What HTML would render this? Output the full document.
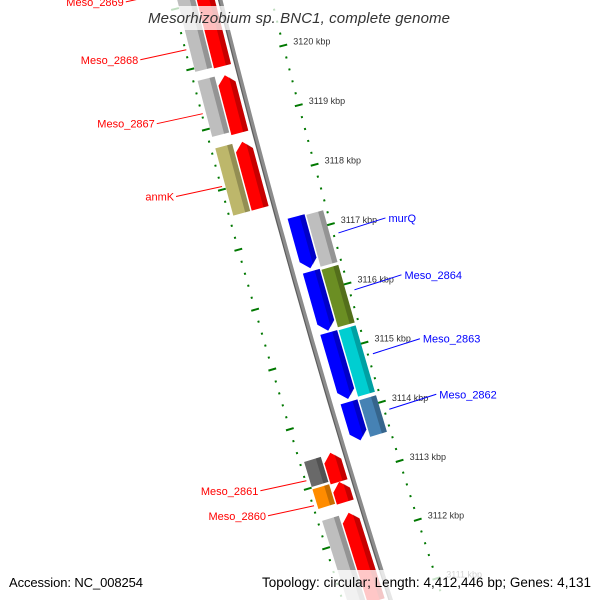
<!DOCTYPE html>
<html><head><meta charset="utf-8"><title>Mesorhizobium sp. BNC1 genome map</title>
<style>html,body{margin:0;padding:0;background:#fff;overflow:hidden;width:600px;height:600px}svg{display:block}</style></head>
<body>
<svg id="map" xmlns="http://www.w3.org/2000/svg" width="600" height="600" viewBox="0 0 600 600" font-family="Liberation Sans, sans-serif" overflow="hidden">
<rect width="600" height="600" fill="#fff"/>
<g id="ticks"></g>
<g id="backbone"></g>
<g id="features"></g>
<g id="labels"></g>
<rect x="145" y="6" width="310" height="24" fill="#fff" fill-opacity="0.75"/>
<text x="299" y="23" text-anchor="middle" font-size="15" font-style="italic" fill="#333" textLength="302">Mesorhizobium sp. BNC1, complete genome</text>
<rect x="0" y="570" width="600" height="30" fill="#fff" fill-opacity="0.78"/>
<text x="9" y="587" font-size="13" fill="#000" textLength="134">Accession: NC_008254</text>
<text x="262" y="587" font-size="13.5" fill="#000" textLength="329">Topology: circular; Length: 4,412,446 bp; Genes: 4,131</text>
</svg>
<script>
// data (kbp)
const featStart = [3119.92,3118.81,3117.55,3112.96,3112.62,3110.95,3109.50, 3121.40,3119.92,3118.84,3117.53,3112.99,3112.62,3110.90, 3116.40,3115.35,3114.20,3113.50, 3116.36,3115.34,3114.17,3113.49];
const featEnd   = [3121.30,3119.77,3118.66,3113.45,3112.96,3112.44,3110.85, 3122.50,3121.30,3119.81,3118.69,3113.45,3112.99,3112.46, 3117.27,3116.35,3115.32,3114.15, 3117.27,3116.35,3115.33,3114.15];
const featLane  = [-1,-1,-1,-1,-1,-1,-1, -2,-2,-2,-2,-2,-2,-2, 1,1,1,1, 2,2,2,2];
const featColor = ["#ff0000","#ff0000","#ff0000","#ff0000","#ff0000","#ff0000","#ff0000","#bebebe","#bebebe","#bebebe","#bdb76b","#696969","#ff8c00","#bebebe","#0000ff","#0000ff","#0000ff","#0000ff","#bebebe","#6b8e23","#00ced1","#4682b4"];
const labelText = ["Meso_2869","Meso_2868","Meso_2867","anmK","Meso_2861","Meso_2860","murQ","Meso_2864","Meso_2863","Meso_2862"];
const labelKbp  = [3121.28,3120.32,3119.26,3118.05,3113.13,3112.71,3116.83,3115.87,3114.79,3113.85];
const labelSide = [-1,-1,-1,-1,-1,-1,1,1,1,1];
const tickKbp   = [3110,3111,3112,3113,3114,3115,3116,3117,3118,3119,3120,3121,3122];

const NS="http://www.w3.org/2000/svg";
const CX=9538, CY=-2323, R0=9603;
function P(kbp,d){const A=0.2699+(3117-kbp)*0.00645;const r=R0-d;return [CX-r*Math.cos(A), CY+r*Math.sin(A)];}
function mk(tag,attrs,parent){const e=document.createElementNS(NS,tag);for(const k in attrs)e.setAttribute(k,attrs[k]);parent.appendChild(e);return e;}
function pts(a){return a.map(p=>p[0].toFixed(1)+","+p[1].toFixed(1)).join(" ");}

// backbone
const bb=document.getElementById('backbone');
const bpts=[];for(let k=3110;k<=3122;k+=0.25)bpts.push(P(k,0));
const l1=mk('polyline',{points:pts(bpts),fill:'none',stroke:'#8c8c8c','stroke-width':4.5},bb);


const bpts2=[];for(let k=3110;k<=3122;k+=0.25)bpts2.push(P(k,-1.5));
const l2=mk('polyline',{points:pts(bpts2),fill:'none',stroke:'#5a5a5a','stroke-width':1},bb);



// ticks
const tg=document.getElementById('ticks');
const rings=[50,-46];
rings.forEach((rd,ri)=>{
  for(let i=15545;i<=15611;i++){
    const k=i/5;const major=(i%5===0);const h=major?4:1;
    const a=P(k,rd-h),b=P(k,rd+h);
    const t=mk('line',{x1:a[0],y1:a[1],x2:b[0],y2:b[1],stroke:'#007800','stroke-width':2},tg);
    
    
  }
});
tickKbp.forEach(k=>{
  const p=P(k,50);
  const t=mk('text',{x:(p[0]+10).toFixed(1),y:(p[1]-1).toFixed(1),'font-size':9,fill:'#333'},tg);
  t.textContent=k+" kbp";
  
  
});

// features
const fg=document.getElementById('features');
const laneD={'-1':-14,'-2':-33,'1':18.5,'2':37.5};
const W=17.5, HEAD=0.14;
featStart.forEach((s,i)=>{
  const e=featEnd[i], lane=featLane[i], d=laneD[lane], col=featColor[i];
  const isArrow=Math.abs(lane)===1;
  const dl=d-W/2, dr=d+W/2;
  let poly, strip;
  if(isArrow && lane<0){
    const hb=e-HEAD;
    poly=[P(s,dl),P(hb,dl),P(e,d),P(hb,dr),P(s,dr)];
    strip=[P(s,dr-W*0.3),P(hb,dr-W*0.3),P(e-HEAD*0.3,dr-W*0.3),P(hb,dr),P(s,dr)];
  } else if(isArrow){
    const hb=s+HEAD;
    poly=[P(e,dl),P(hb,dl),P(s,d),P(hb,dr),P(e,dr)];
    strip=[P(e,dr-W*0.3),P(hb,dr-W*0.3),P(s+HEAD*0.3,dr-W*0.3),P(hb,dr),P(e,dr)];
  } else {
    const g=0.02;
    poly=[P(s+g,dl),P(e-g,dl),P(e-g,dr),P(s+g,dr)];
    strip=[P(s+g,dr-W*0.3),P(e-g,dr-W*0.3),P(e-g,dr),P(s+g,dr)];
  }
  const f=mk('polygon',{points:pts(poly),fill:col},fg);
  
  
  const sh=mk('polygon',{points:pts(strip),fill:'#000','fill-opacity':0.22},fg);
  
  
});

// labels
const lg=document.getElementById('labels');
labelText.forEach((txt,i)=>{
  const side=labelSide[i];
  const col=side<0?'#ff0000':'#0000ff';
  const st=P(labelKbp[i], side<0?-45:55);
  const en=side<0?[st[0]-46,st[1]+10]:[st[0]+47,st[1]-15];
  const ln=mk('line',{x1:st[0],y1:st[1],x2:en[0],y2:en[1],stroke:col,'stroke-width':1},lg);
  
  
  const t=mk('text',{x:(side<0?en[0]-2:en[0]+3).toFixed(1),y:(en[1]+4).toFixed(1),'font-size':11,fill:col,'text-anchor':side<0?'end':'start'},lg);
  t.textContent=txt;
  
  
});
</script>
</body></html>
